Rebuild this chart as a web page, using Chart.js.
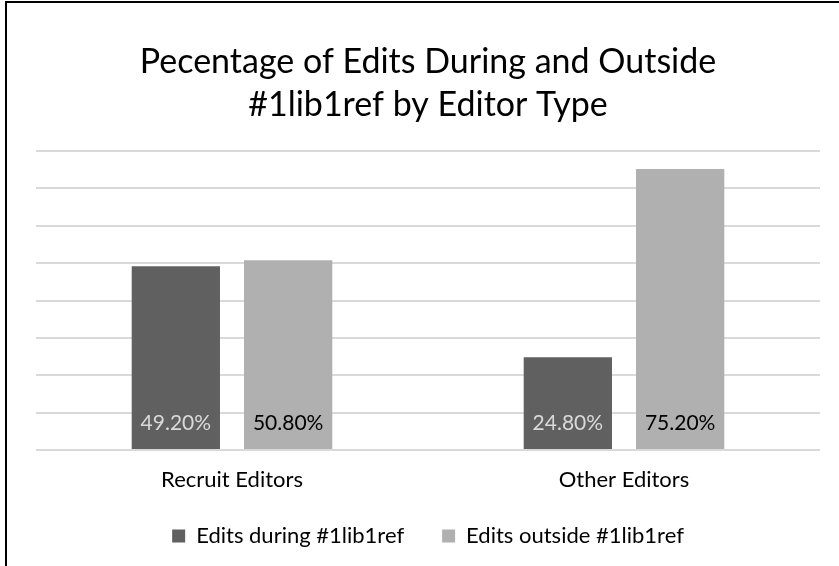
<!DOCTYPE html>
<html>
<head>
<meta charset="utf-8">
<script src="https://cdn.jsdelivr.net/npm/chart.js@4/dist/chart.umd.min.js"></script>
<style>
  html, body { margin: 0; padding: 0; background: #fff; }
  #wrap { position: relative; width: 839px; height: 566px; overflow: hidden; }
  #frame { position: absolute; left: 5px; top: 1px; width: 900px; height: 700px;
           border-left: 2px solid #000; border-top: 2px solid #000; pointer-events: none; }
  canvas { position: absolute; left: 0; top: 0; }
</style>
</head>
<body>
<div id="wrap">
  <canvas id="chart" width="839" height="566"></canvas>
  <div id="frame"></div>
</div>
<script>
// Chart values (percent of edits)
const categories = ['Recruit Editors', 'Other Editors'];
const duringEdits = [49.2, 24.8];
const outsideEdits = [50.8, 75.2];
const seriesNames = ['Edits during #1lib1ref', 'Edits outside #1lib1ref'];

const FONT = 'Lato, "Open Sans", sans-serif';

// draws the percentage label near the bottom of each bar
const barLabels = {
  id: 'barLabels',
  afterDatasetsDraw(chart) {
    const ctx = chart.ctx;
    ctx.save();
    ctx.font = '21px ' + FONT;
    ctx.textAlign = 'center';
    ctx.textBaseline = 'middle';
    chart.data.datasets.forEach((ds, i) => {
      const meta = chart.getDatasetMeta(i);
      meta.data.forEach((bar, j) => {
        ctx.fillStyle = i === 0 ? '#d9d9d9' : '#000';
        ctx.fillText(ds.data[j].toFixed(2) + '%', bar.x, bar.base - 26);
      });
    });
    ctx.restore();
  }
};

new Chart(document.getElementById('chart'), {
  type: 'bar',
  data: {
    labels: categories,
    datasets: [
      { label: seriesNames[0], data: duringEdits, backgroundColor: '#606060',
        categoryPercentage: 0.573, barPercentage: 0.786 },
      { label: seriesNames[1], data: outsideEdits, backgroundColor: '#b0b0b0',
        categoryPercentage: 0.573, barPercentage: 0.786 }
    ]
  },
  options: {
    responsive: false,
    animation: false,
    layout: { padding: { top: 30, left: 36, right: 19, bottom: 9 } },
    plugins: {
      title: {
        display: true,
        text: ['Pecentage of Edits During and Outside', '#1lib1ref by Editor Type'],
        color: '#000',
        font: { family: FONT, size: 34, weight: 'normal', lineHeight: 1.265 },
        padding: { top: 11, bottom: 24 }
      },
      legend: {
        position: 'bottom',
        labels: {
          color: '#000',
          font: { family: FONT, size: 22 },
          boxWidth: 13, boxHeight: 13,
          padding: 38
        }
      },
      tooltip: { enabled: false }
    },
    scales: {
      x: {
        grid: { display: false, drawTicks: false },
        border: { display: false },
        ticks: { color: '#000', font: { family: FONT, size: 22, lineHeight: 1 }, padding: 19 },
        afterFit(scale) { scale.height = 37; }
      },
      y: {
        min: 0, max: 80,
        ticks: { display: false, stepSize: 10 },
        border: { display: false },
        grid: { color: '#d9d9d9', lineWidth: 2, drawTicks: false }
      }
    }
  },
  plugins: [barLabels]
});
</script>
</body>
</html>
